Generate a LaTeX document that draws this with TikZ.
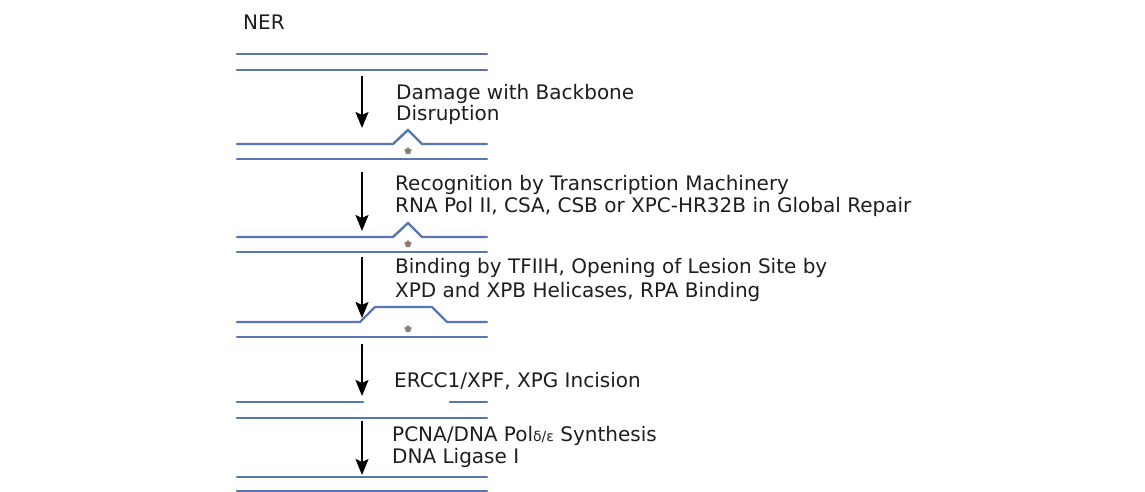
\documentclass[tikz,border=0pt]{standalone}
\usepackage{fontspec}
\setmainfont{DejaVu Sans}
\usetikzlibrary{arrows.meta,shapes.geometric}
\definecolor{strand}{RGB}{88,118,178}
\definecolor{txt}{RGB}{30,30,30}
\definecolor{lesion}{RGB}{140,125,115}
\tikzset{
  dna/.style={draw=strand,line width=2.4pt,line cap=round},
  steparrow/.style={draw=black,line width=1.8pt,-{Stealth[length=16pt,width=13pt,inset=3pt]}},
  lbl/.style={anchor=base west,inner sep=0pt,text=txt,font=\fontsize{20}{23}\selectfont,align=left},
  lesionstar/.style={star,star points=5,fill=lesion,inner sep=0pt,minimum size=8pt,draw=none},
}
\begin{document}
\begin{tikzpicture}[x=1pt,y=-1pt]
\useasboundingbox (0,0) rectangle (1145,492);
\fill[white] (0,0) rectangle (1145,492);
% title
\node[lbl] (ner) at (243,30) {NER};
% stage 1
\draw[dna] (237,54) -- (487,54);
\draw[dna] (237,70) -- (487,70);
% stage 2
\draw[dna] (237,144) -- (393,144) -- (408,130) -- (422,144) -- (487,144);
\draw[dna] (237,159) -- (487,159);
\node[lesionstar] (s1) at (408,151) {};
% stage 3
\draw[dna] (237,237) -- (393,237) -- (408,223) -- (422,237) -- (487,237);
\draw[dna] (237,252) -- (487,252);
\node[lesionstar] (s2) at (408,244) {};
% stage 4
\draw[dna] (237,322) -- (360,322) -- (375,307) -- (432,307) -- (447,322) -- (487,322);
\draw[dna] (237,337) -- (487,337);
\node[lesionstar] (s3) at (408,329) {};
% stage 5
\draw[dna] (237,402) -- (363,402);
\draw[dna] (450,402) -- (487,402);
\draw[dna] (237,418) -- (487,418);
% stage 6
\draw[dna] (237,477) -- (487,477);
\draw[dna] (237,491) -- (487,491);
% arrows
\coordinate (a1s) at (362,76);  \coordinate (a1e) at (362,128);
\coordinate (a2s) at (362,172); \coordinate (a2e) at (362,231);
\coordinate (a3s) at (362,257); \coordinate (a3e) at (362,318);
\coordinate (a4s) at (362,344); \coordinate (a4e) at (362,396);
\coordinate (a5s) at (362,421); \coordinate (a5e) at (362,475);
\draw[steparrow] (a1s) -- (a1e);
\draw[steparrow] (a2s) -- (a2e);
\draw[steparrow] (a3s) -- (a3e);
\draw[steparrow] (a4s) -- (a4e);
\draw[steparrow] (a5s) -- (a5e);
% labels
\node[lbl] (t1a) at (396,100) {Damage with Backbone};
\node[lbl] (t1b) at (396,121) {Disruption};
\node[lbl] (t2a) at (395,190) {Recognition by Transcription Machinery};
\node[lbl] (t2b) at (395,212) {RNA Pol II, CSA, CSB or XPC-HR32B in Global Repair};
\node[lbl] (t3a) at (395,273) {Binding by TFIIH, Opening of Lesion Site by};
\node[lbl] (t3b) at (395,297) {XPD and XPB Helicases, RPA Binding};
\node[lbl] (t4) at (394,387) {ERCC1/XPF, XPG Incision};
\node[lbl] (t5a) at (392,441) {PCNA/DNA Pol{\fontsize{14}{15}\selectfont δ/ε} Synthesis};
\node[lbl] (t5b) at (392,463) {DNA Ligase I};
\end{tikzpicture}
\end{document}
